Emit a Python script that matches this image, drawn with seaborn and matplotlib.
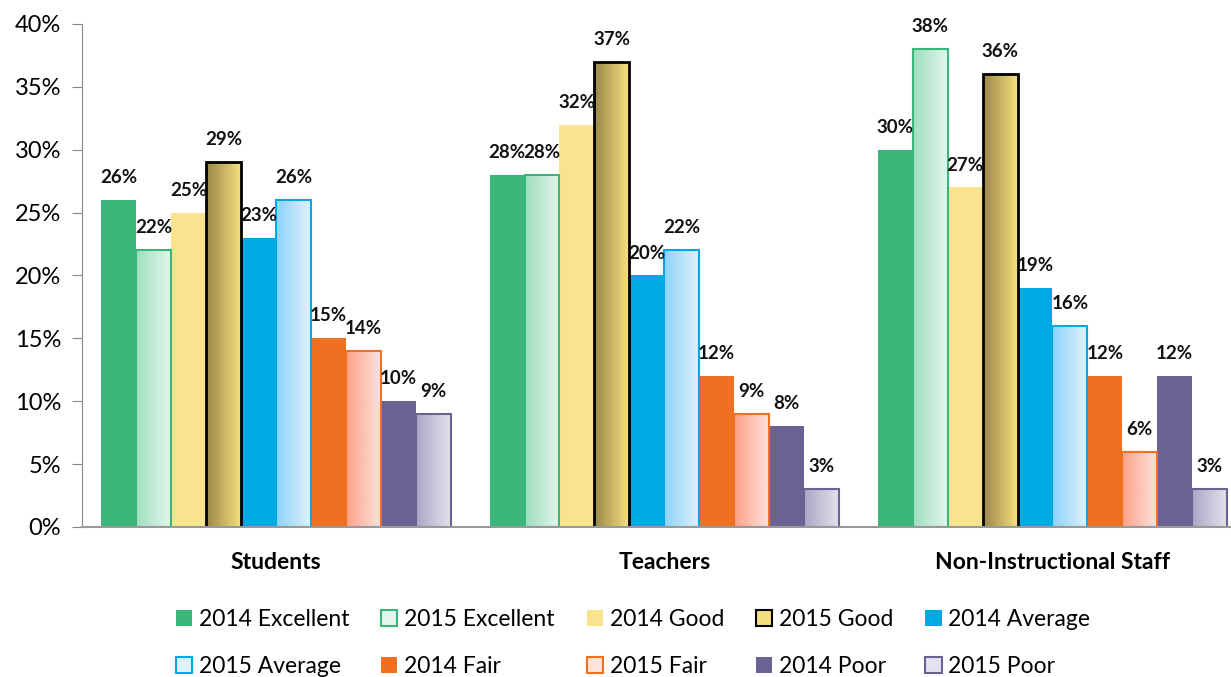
import numpy as np
import pandas as pd
import seaborn as sns
import matplotlib.pyplot as plt
from matplotlib.colors import to_rgb
from matplotlib.patches import Patch

groups = ['Students', 'Teachers', 'Non-Instructional Staff']
series = ['2014 Excellent', '2015 Excellent', '2014 Good', '2015 Good', '2014 Average',
          '2015 Average', '2014 Fair', '2015 Fair', '2014 Poor', '2015 Poor']
students = [26, 22, 25, 29, 23, 26, 15, 14, 10, 9]
teachers = [28, 28, 32, 37, 20, 22, 12, 9, 8, 3]
staff = [30, 38, 27, 36, 19, 16, 12, 6, 12, 3]

# solid colour for 2014 bars, (left, right) gradient for 2015 bars
fills = {
    '2014 Excellent': '#3bb67a', '2015 Excellent': ('#9fdfbf', '#e3f6ec'),
    '2014 Good': '#f9e38f', '2015 Good': ('#9a8648', '#f5e080'),
    '2014 Average': '#00a9e3', '2015 Average': ('#8dd2fa', '#e0f1fc'),
    '2014 Fair': '#f07022', '2015 Fair': ('#fda086', '#fde3dc'),
    '2014 Poor': '#6b6294', '2015 Poor': ('#aca6c6', '#e4e2ec'),
}
edges = {
    '2015 Excellent': '#3bb67a', '2015 Good': '#000000', '2015 Average': '#00a9e3',
    '2015 Fair': '#f07022', '2015 Poor': '#6b6294',
}

df = pd.DataFrame({
    'group': np.repeat(groups, len(series)),
    'series': series * len(groups),
    'value': students + teachers + staff,
})

plt.rcParams['font.family'] = ['Lato', 'DejaVu Sans']
fig = plt.figure(figsize=(12.31, 6.77), dpi=100)
ax = fig.add_axes([0.0666, 0.2216, 0.9334, 0.743])

palette = {s: (fills[s] if isinstance(fills[s], str) else fills[s][1]) for s in series}
sns.barplot(data=df, x='group', y='value', hue='series', hue_order=series, order=groups,
            palette=palette, width=0.9, saturation=1, legend=False, ax=ax)

for s, cont in zip(series, ax.containers):
    for bar in cont:
        h = bar.get_height()
        x0 = bar.get_x()
        w = bar.get_width()
        if s in edges:
            c0 = np.array(to_rgb(fills[s][0]))
            c1 = np.array(to_rgb(fills[s][1]))
            t = np.linspace(0, 1, 128)[:, None]
            grad = (c0 + (c1 - c0) * t)[None, :, :]
            im = ax.imshow(grad, extent=[x0, x0 + w, 0, h], aspect='auto',
                           interpolation='bilinear', zorder=1.5)
            im.set_clip_path(bar)
            bar.set_facecolor('none')
            bar.set_edgecolor(edges[s])
            bar.set_linewidth(2.0 if s == '2015 Good' else 1.5)
            bar.set_zorder(2)
        ax.annotate(f'{h:.0f}%', (x0 + w / 2, h), xytext=(0, 10), textcoords='offset points',
                    ha='center', va='bottom', fontsize=13.5, fontweight='bold', color='#111111')

ax.set_xlim(-0.5, 2.46)
ax.set_ylim(0, 40)
ax.set_yticks(range(0, 41, 5))
ax.set_yticklabels([f'{v}%' for v in range(0, 41, 5)], fontsize=17)
ax.tick_params(axis='y', direction='out', length=7, color='#888888', pad=8)
ax.tick_params(axis='x', length=0, pad=18, labelsize=16.5)
for lbl in ax.get_xticklabels():
    lbl.set_fontweight('bold')
ax.set_xlabel('')
ax.set_ylabel('')
for side in ['top', 'right']:
    ax.spines[side].set_visible(False)
ax.spines['left'].set_color('#888888')
ax.spines['bottom'].set_color('#999999')
ax.spines['bottom'].set_linewidth(1.5)

handles = []
for s in series:
    if s in edges:
        handles.append(Patch(facecolor=fills[s][1], edgecolor=edges[s], linewidth=1.5, label=s))
    else:
        handles.append(Patch(facecolor=fills[s], edgecolor='none', label=s))
# legend fills column by column: reorder so it reads row by row
order = [0, 5, 1, 6, 2, 7, 3, 8, 4, 9]
fig.legend(handles=[handles[i] for i in order], loc='lower left', bbox_to_anchor=(0.126, -0.03),
           ncol=5, frameon=False, fontsize=16.5, handlelength=0.7, handleheight=0.7,
           handletextpad=0.3, columnspacing=1.4, labelspacing=1.1)

fig.savefig('out.png', dpi=100)
